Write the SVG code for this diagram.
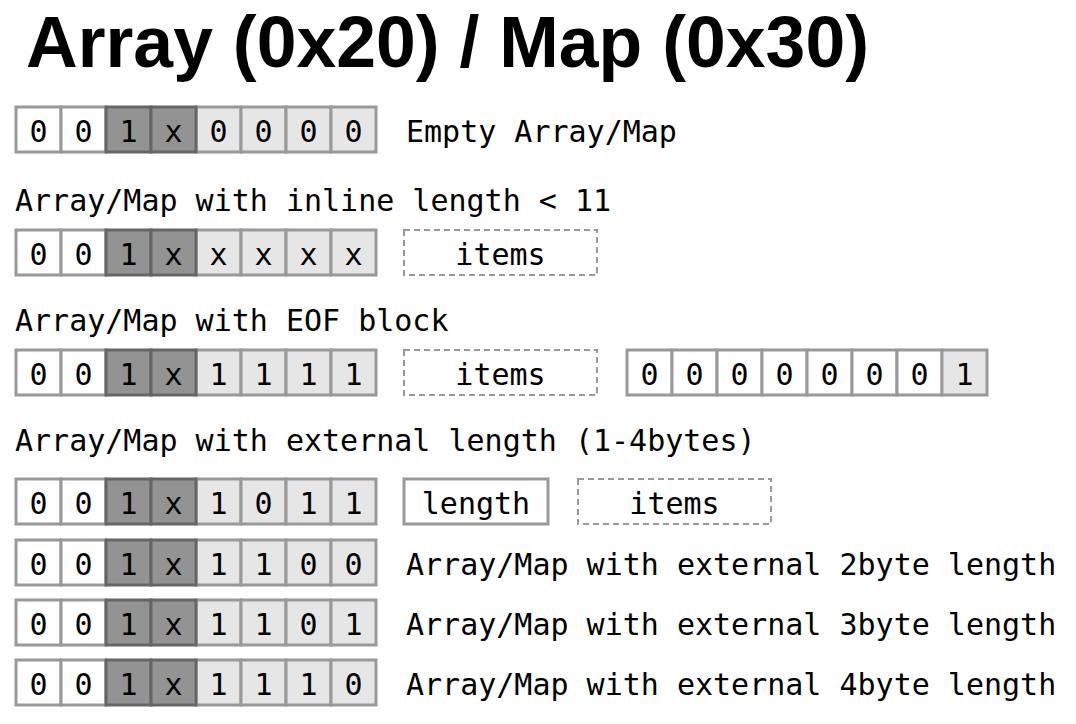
<svg xmlns="http://www.w3.org/2000/svg" width="1076" height="724" viewBox="0 0 1076 724">
<style>
.w{fill:#fff;stroke:#999;stroke-width:3}
.l{fill:#e6e6e6;stroke:#999;stroke-width:3}
.d{fill:#939393;stroke:#666;stroke-width:3}
.dash{fill:#fff;stroke:#999;stroke-width:2;stroke-dasharray:6,4}
.m{font-family:"DejaVu Sans Mono","Liberation Mono",monospace;font-size:30px;fill:#000}
.c{text-anchor:middle}
.t{font-family:"Liberation Sans",Arial,sans-serif;font-weight:bold;font-size:72px;fill:#000}
</style>
<defs>
<g id="hdr">
<rect class="w" x="16" y="0" width="45" height="45"/>
<rect class="w" x="61" y="0" width="45" height="45"/>
<rect class="d" x="106" y="0" width="45" height="45"/>
<rect class="d" x="151" y="0" width="45" height="45"/>
<text class="m c" x="38.5" y="34.5">0</text>
<text class="m c" x="83.5" y="34.5">0</text>
<text class="m c" x="128.5" y="34.5">1</text>
<text class="m c" x="173.5" y="34.5">x</text>
</g>
<g id="lo">
<rect class="l" x="196" y="0" width="45" height="45"/>
<rect class="l" x="241" y="0" width="45" height="45"/>
<rect class="l" x="286" y="0" width="45" height="45"/>
<rect class="l" x="331" y="0" width="45" height="45"/>
</g>
</defs>
<text class="t" x="26" y="67" textLength="843" lengthAdjust="spacingAndGlyphs">Array (0x20) / Map (0x30)</text>

<g id="row-empty" transform="translate(0,107)">
<use href="#lo"/><use href="#hdr"/>
<text class="m c" x="218.5" y="34.5">0</text><text class="m c" x="263.5" y="34.5">0</text><text class="m c" x="308.5" y="34.5">0</text><text class="m c" x="353.5" y="34.5">0</text>
<text class="m" x="406" y="34.5">Empty Array/Map</text>
</g>

<text class="m" x="15" y="211">Array/Map with inline length &lt; 11</text>
<g id="row-inline" transform="translate(0,230)">
<use href="#lo"/><use href="#hdr"/>
<text class="m c" x="218.5" y="34.5">x</text><text class="m c" x="263.5" y="34.5">x</text><text class="m c" x="308.5" y="34.5">x</text><text class="m c" x="353.5" y="34.5">x</text>
</g>
<g id="items-inline" transform="translate(0,230)">
<rect class="dash" x="404" y="0" width="193" height="45"/>
<text class="m c" x="500.5" y="34.5">items</text>
</g>

<text class="m" x="15" y="331">Array/Map with EOF block</text>
<g id="row-eof" transform="translate(0,350)">
<use href="#lo"/><use href="#hdr"/>
<text class="m c" x="218.5" y="34.5">1</text><text class="m c" x="263.5" y="34.5">1</text><text class="m c" x="308.5" y="34.5">1</text><text class="m c" x="353.5" y="34.5">1</text>
</g>
<g id="items-eof" transform="translate(0,350)">
<rect class="dash" x="404" y="0" width="193" height="45"/>
<text class="m c" x="500.5" y="34.5">items</text>
</g>
<g id="eof-block" transform="translate(0,350)">
<rect class="w" x="627" y="0" width="45" height="45"/>
<rect class="w" x="672" y="0" width="45" height="45"/>
<rect class="w" x="717" y="0" width="45" height="45"/>
<rect class="w" x="762" y="0" width="45" height="45"/>
<rect class="w" x="807" y="0" width="45" height="45"/>
<rect class="w" x="852" y="0" width="45" height="45"/>
<rect class="w" x="897" y="0" width="45" height="45"/>
<rect class="l" x="942" y="0" width="45" height="45"/>
<text class="m c" x="649.5" y="34.5">0</text><text class="m c" x="694.5" y="34.5">0</text><text class="m c" x="739.5" y="34.5">0</text><text class="m c" x="784.5" y="34.5">0</text>
<text class="m c" x="829.5" y="34.5">0</text><text class="m c" x="874.5" y="34.5">0</text><text class="m c" x="919.5" y="34.5">0</text><text class="m c" x="964.5" y="34.5">1</text>
</g>

<text class="m" x="15" y="451">Array/Map with external length (1-4bytes)</text>
<g id="row-ext" transform="translate(0,479)">
<use href="#lo"/><use href="#hdr"/>
<text class="m c" x="218.5" y="34.5">1</text><text class="m c" x="263.5" y="34.5">0</text><text class="m c" x="308.5" y="34.5">1</text><text class="m c" x="353.5" y="34.5">1</text>
</g>
<g id="length-ext" transform="translate(0,479)">
<rect class="w" x="404" y="0" width="144" height="45"/>
<text class="m c" x="476" y="34.5">length</text>
</g>
<g id="items-ext" transform="translate(0,479)">
<rect class="dash" x="578" y="0" width="193" height="45"/>
<text class="m c" x="674.5" y="34.5">items</text>
</g>

<g id="row-2byte" transform="translate(0,540)">
<use href="#lo"/><use href="#hdr"/>
<text class="m c" x="218.5" y="34.5">1</text><text class="m c" x="263.5" y="34.5">1</text><text class="m c" x="308.5" y="34.5">0</text><text class="m c" x="353.5" y="34.5">0</text>
<text class="m" x="406" y="34.5">Array/Map with external 2byte length</text>
</g>
<g id="row-3byte" transform="translate(0,600)">
<use href="#lo"/><use href="#hdr"/>
<text class="m c" x="218.5" y="34.5">1</text><text class="m c" x="263.5" y="34.5">1</text><text class="m c" x="308.5" y="34.5">0</text><text class="m c" x="353.5" y="34.5">1</text>
<text class="m" x="406" y="34.5">Array/Map with external 3byte length</text>
</g>
<g id="row-4byte" transform="translate(0,660)">
<use href="#lo"/><use href="#hdr"/>
<text class="m c" x="218.5" y="34.5">1</text><text class="m c" x="263.5" y="34.5">1</text><text class="m c" x="308.5" y="34.5">1</text><text class="m c" x="353.5" y="34.5">0</text>
<text class="m" x="406" y="34.5">Array/Map with external 4byte length</text>
</g>
</svg>
